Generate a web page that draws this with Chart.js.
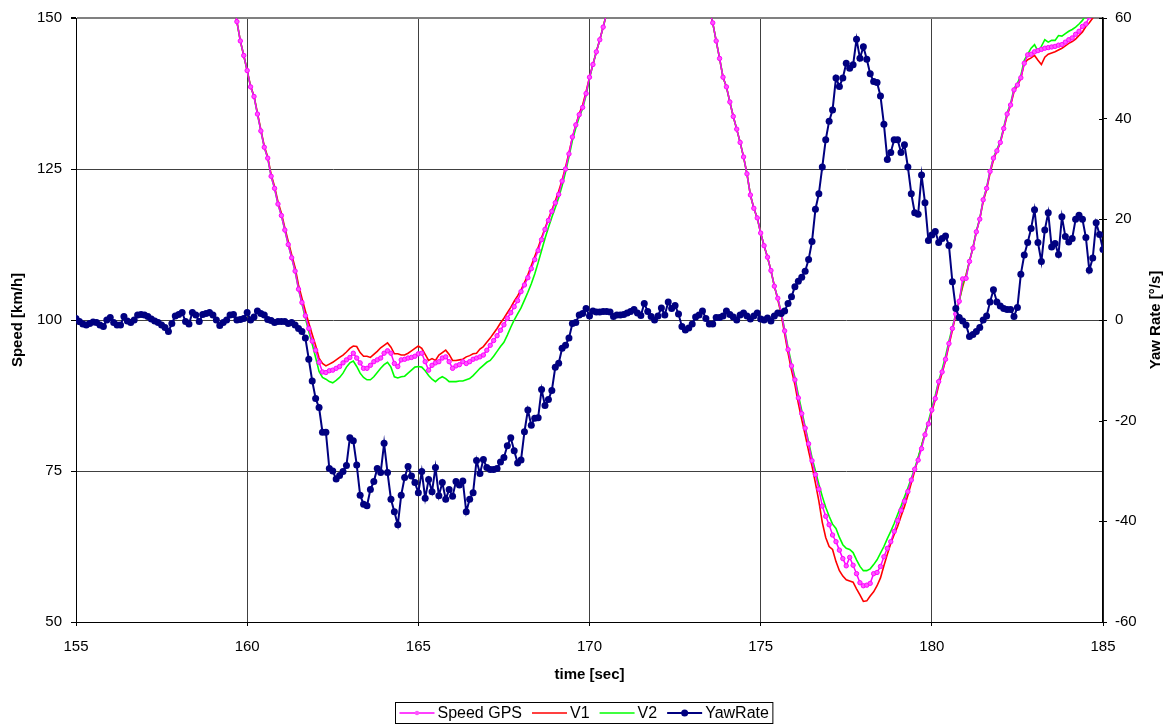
<!DOCTYPE html>
<html>
<head>
<meta charset="utf-8">
<title>Speed and yaw rate</title>
<script src="https://cdn.jsdelivr.net/npm/chart.js@4.4.1/dist/chart.umd.min.js"></script>
<style>
  html, body { margin: 0; padding: 0; background: #fff; }
  canvas { display: block; }
</style>
</head>
<body>
<canvas id="chart" width="1168" height="724"></canvas>
<script>
// Datos: una muestra cada 0.1 s desde 155.0 s hasta 185.0 s
const _ = null; // fuera del rango visible

const T_START = 155;
const T_STEP = 0.1;

// Yaw rate [°/s], eje derecho
const yawRate = [
  /*155*/ 0.3, -0.3, -0.8, -1.0, -0.7, -0.4, -0.5, -1.0, -1.3, 0.0,
  /*156*/ 0.5, -0.5, -1.0, -1.0, 0.7, -0.2, -0.5, 0.0, 1.0, 1.1,
  /*157*/ 1.0, 0.7, 0.2, -0.2, -0.5, -1.0, -1.5, -2.3, -0.7, 0.8,
  /*158*/ 1.1, 1.5, -0.3, -0.8, 1.5, 1.0, -0.3, 1.1, 1.3, 1.5,
  /*159*/ 1.0, 0.0, -1.1, -0.5, 0.0, 1.0, 1.1, 0.0, 0.1, 0.3,
  /*160*/ 1.5, 0.0, 0.6, 1.8, 1.3, 1.0, 0.1, -0.1, -0.5, -0.3,
  /*161*/ -0.3, -0.3, -0.7, -0.5, -1.0, -1.7, -2.3, -3.6, -7.8, -12.1,
  /*162*/ -15.6, -17.4, -22.3, -22.3, -29.5, -30.0, -31.6, -30.9, -30.1, -28.9,
  /*163*/ -23.4, -24.0, -28.8, -34.8, -36.6, -36.9, -33.7, -32.1, -29.5, -30.3,
  /*164*/ -24.5, -30.3, -35.6, -38.1, -40.7, -34.8, -31.3, -29.1, -31.0, -32.3,
  /*165*/ -34.3, -30.1, -35.4, -31.7, -34.1, -29.3, -34.9, -32.3, -35.6, -33.7,
  /*166*/ -35.0, -32.1, -32.8, -32.0, -38.1, -35.6, -34.3, -27.9, -30.5, -27.7,
  /*167*/ -29.3, -29.7, -29.7, -29.5, -28.2, -27.3, -25.0, -23.4, -26.0, -28.4,
  /*168*/ -27.8, -22.2, -17.9, -20.9, -19.5, -19.4, -13.8, -17.0, -15.8, -14.0,
  /*169*/ -9.4, -8.6, -5.6, -5.0, -3.6, -0.7, -0.5, 1.0, 1.3, 2.3,
  /*170*/ 0.8, 1.8, 1.6, 1.6, 1.7, 1.7, 1.6, 0.7, 1.0, 1.0,
  /*171*/ 1.1, 1.4, 1.7, 2.1, 1.4, 0.9, 3.3, 1.7, 0.7, 0.0,
  /*172*/ 0.8, 2.4, 1.0, 3.6, 2.3, 2.9, 1.2, -1.3, -2.0, -1.6,
  /*173*/ -0.8, 0.6, 1.0, 1.8, 0.3, -0.8, -0.8, 0.5, 0.5, 0.8,
  /*174*/ 1.8, 1.1, 0.6, 0.0, 1.0, 1.4, 0.8, 0.2, 0.8, 1.4,
  /*175*/ 0.2, 0.0, 0.4, -0.2, 0.8, 1.4, 1.3, 1.8, 3.3, 4.6,
  /*176*/ 6.6, 7.7, 8.5, 9.7, 12.0, 15.6, 22.0, 25.1, 30.4, 35.8,
  /*177*/ 39.5, 41.7, 48.1, 46.4, 48.1, 51.0, 50.0, 50.7, 55.8, 52.0,
  /*178*/ 54.3, 51.8, 48.9, 47.4, 47.2, 44.5, 38.9, 31.9, 33.3, 35.8,
  /*179*/ 35.8, 33.3, 34.8, 30.4, 25.1, 21.3, 21.0, 28.8, 23.3, 15.8,
  /*180*/ 16.9, 17.6, 15.4, 16.2, 16.7, 14.8, 7.6, 2.3, 0.5, -0.2,
  /*181*/ -1.0, -3.3, -2.9, -2.3, -1.5, 0.0, 0.8, 3.6, 6.0, 3.6,
  /*182*/ 2.8, 2.3, 2.1, 2.1, 0.7, 2.5, 9.1, 12.9, 15.4, 18.2,
  /*183*/ 21.9, 15.4, 11.6, 17.9, 21.3, 14.5, 15.2, 13.0, 20.5, 16.6,
  /*184*/ 15.5, 16.2, 20.0, 20.8, 20.0, 16.4, 9.9, 12.3, 19.3, 17.0,
  /*185*/ 14.0
];

// Speed GPS [km/h]
const speedGps = [
  /*155*/ _, _, _, _, _, _, _, _, _, _,
  /*156*/ _, _, _, _, _, _, _, _, _, _,
  /*157*/ _, _, _, _, _, _, _, _, _, _,
  /*158*/ _, _, _, _, _, _, _, _, _, _,
  /*159*/ _, _, _, _, _, _, 152.3, 149.4, 146.2, 143.8,
  /*160*/ 141.3, 138.6, 137.0, 134.1, 131.3, 128.6, 126.8, 123.8, 121.8, 119.2,
  /*161*/ 117.3, 114.9, 112.5, 110.3, 108.1, 105.1, 102.9, 100.7, 98.6, 96.5,
  /*162*/ 95.0, 93.0, 91.4, 91.3, 91.6, 91.7, 92.0, 92.3, 92.9, 93.4,
  /*163*/ 93.8, 94.5, 93.7, 92.9, 92.0, 92.0, 92.5, 93.1, 93.4, 93.7,
  /*164*/ 94.5, 94.9, 94.5, 92.8, 92.3, 93.4, 93.5, 93.7, 93.8, 94.0,
  /*165*/ 94.4, 94.5, 93.1, 91.7, 92.5, 92.9, 93.1, 93.7, 93.9, 93.1,
  /*166*/ 92.0, 92.4, 92.6, 93.1, 92.8, 93.1, 93.5, 93.7, 93.9, 94.2,
  /*167*/ 95.0, 95.8, 96.6, 97.4, 98.3, 99.2, 100.3, 101.2, 102.2, 103.2,
  /*168*/ 104.7, 105.8, 107.0, 108.5, 110.0, 111.5, 113.3, 115.0, 116.5, 118.0,
  /*169*/ 119.4, 120.8, 123.0, 125.0, 127.5, 130.3, 132.3, 134.0, 135.2, 137.5,
  /*170*/ 140.2, 142.3, 144.4, 146.4, 148.5, 150.8, _, _, _, _,
  /*171*/ _, _, _, _, _, _, _, _, _, _,
  /*172*/ _, _, _, _, _, _, _, _, _, _,
  /*173*/ _, _, _, _, _, 151.5, 149.2, 146.2, 143.3, 140.2,
  /*174*/ 138.6, 136.1, 133.7, 131.6, 129.4, 127.0, 124.2, 120.7, 118.5, 116.9,
  /*175*/ 114.4, 112.3, 110.4, 108.2, 105.6, 103.6, 101.3, 98.2, 95.1, 92.4,
  /*176*/ 90.1, 87.1, 84.5, 82.1, 79.5, 76.7, 74.4, 72.0, 69.2, 67.5,
  /*177*/ 66.1, 64.4, 63.3, 61.9, 60.5, 59.3, 60.7, 59.4, 58.0, 56.5,
  /*178*/ 56.0, 56.1, 56.4, 58.0, 58.2, 59.2, 60.8, 62.2, 63.3, 65.0,
  /*179*/ 66.8, 68.5, 70.0, 71.6, 73.5, 75.3, 76.8, 78.7, 81.0, 82.8,
  /*180*/ 85.1, 87.0, 89.8, 91.4, 93.5, 96.1, 98.6, 101.0, 103.1, 106.8,
  /*181*/ 106.9, 109.7, 111.9, 114.6, 116.7, 119.9, 121.8, 124.6, 126.8, 128.0,
  /*182*/ 129.4, 131.7, 134.1, 135.6, 138.1, 138.9, 140.1, 142.5, 143.9, 144.0,
  /*183*/ 144.4, 144.6, 144.8, 145.0, 145.1, 145.2, 145.3, 145.5, 145.6, 146.0,
  /*184*/ 146.4, 146.7, 147.3, 147.8, 148.6, 149.0, 150.2, 151.5, _, _,
  /*185*/ _
];

// V1 [km/h]
const v1 = [
  /*155*/ _, _, _, _, _, _, _, _, _, _,
  /*156*/ _, _, _, _, _, _, _, _, _, _,
  /*157*/ _, _, _, _, _, _, _, _, _, _,
  /*158*/ _, _, _, _, _, _, _, _, _, _,
  /*159*/ _, _, _, _, _, _, 152.3, 149.4, 146.2, 143.8,
  /*160*/ 141.3, 138.7, 137.1, 134.3, 131.5, 128.8, 127.0, 124.1, 122.1, 119.6,
  /*161*/ 117.7, 115.3, 113.0, 110.8, 108.7, 105.8, 103.6, 101.5, 99.5, 97.6,
  /*162*/ 95.8, 93.7, 92.8, 92.4, 92.7, 93.0, 93.4, 93.8, 94.2, 94.7,
  /*163*/ 95.3, 95.7, 95.6, 94.6, 94.0, 94.0, 93.8, 94.3, 94.8, 95.4,
  /*164*/ 95.8, 96.2, 95.5, 94.4, 94.4, 94.2, 94.2, 94.5, 94.9, 95.3,
  /*165*/ 95.7, 95.3, 94.3, 93.3, 93.6, 93.3, 94.2, 94.6, 95.0, 94.3,
  /*166*/ 93.3, 93.3, 93.4, 93.5, 93.9, 94.1, 94.4, 94.5, 95.2, 95.6,
  /*167*/ 96.3, 97.0, 97.8, 98.6, 99.5, 100.3, 101.2, 102.1, 103.1, 104.0,
  /*168*/ 105.0, 106.2, 107.5, 109.0, 110.5, 112.0, 113.6, 115.2, 116.7, 118.2,
  /*169*/ 119.7, 121.3, 123.2, 125.3, 127.7, 130.2, 132.3, 134.2, 135.6, 137.8,
  /*170*/ 140.2, 142.3, 144.4, 146.4, 148.5, 150.8, _, _, _, _,
  /*171*/ _, _, _, _, _, _, _, _, _, _,
  /*172*/ _, _, _, _, _, _, _, _, _, _,
  /*173*/ _, _, _, _, _, 151.5, 149.2, 146.2, 143.3, 140.2,
  /*174*/ 138.6, 136.1, 133.7, 131.6, 129.4, 127.0, 124.2, 120.7, 118.5, 116.9,
  /*175*/ 114.4, 112.3, 110.4, 108.2, 105.6, 103.4, 100.9, 97.7, 94.5, 91.7,
  /*176*/ 89.3, 86.2, 83.5, 81.0, 78.3, 75.8, 73.0, 70.0, 66.5, 64.0,
  /*177*/ 62.5, 62.0, 60.0, 58.5, 57.6, 57.0, 56.8, 56.6, 55.5, 54.5,
  /*178*/ 53.4, 53.5, 54.3, 55.0, 56.0, 57.3, 59.3, 61.2, 63.0, 64.5,
  /*179*/ 65.8, 67.5, 69.1, 71.0, 73.0, 75.0, 77.1, 79.2, 81.2, 83.0,
  /*180*/ 84.8, 86.8, 89.2, 91.2, 93.3, 95.8, 98.3, 100.8, 103.2, 105.5,
  /*181*/ 107.5, 109.7, 111.9, 114.6, 116.7, 119.6, 121.6, 124.3, 126.5, 128.0,
  /*182*/ 129.3, 131.6, 133.9, 135.5, 137.8, 138.8, 140.0, 142.5, 143.1, 143.4,
  /*183*/ 143.8, 143.0, 142.3, 143.5, 144.0, 144.2, 144.4, 144.7, 145.0, 145.4,
  /*184*/ 145.8, 146.1, 146.5, 147.1, 147.7, 148.6, 149.2, 150.0, 151.5, _,
  /*185*/ _
];

// V2 [km/h]
const v2 = [
  /*155*/ _, _, _, _, _, _, _, _, _, _,
  /*156*/ _, _, _, _, _, _, _, _, _, _,
  /*157*/ _, _, _, _, _, _, _, _, _, _,
  /*158*/ _, _, _, _, _, _, _, _, _, _,
  /*159*/ _, _, _, _, _, _, 152.3, 149.4, 146.2, 143.8,
  /*160*/ 141.3, 138.6, 137.0, 134.1, 131.3, 128.6, 126.8, 123.8, 121.8, 119.2,
  /*161*/ 117.3, 114.9, 112.5, 110.3, 108.1, 105.1, 102.7, 100.3, 98.1, 96.0,
  /*162*/ 93.8, 91.5, 90.5, 90.2, 89.8, 89.6, 90.0, 90.5, 91.2, 92.2,
  /*163*/ 92.9, 93.2, 92.3, 91.2, 90.5, 90.1, 90.1, 90.6, 91.3, 92.0,
  /*164*/ 92.6, 93.0, 92.2, 90.6, 90.4, 90.6, 90.7, 91.2, 91.7, 92.2,
  /*165*/ 92.3, 92.2, 91.6, 90.8, 90.2, 89.8, 90.3, 90.6, 90.3, 89.8,
  /*166*/ 89.8, 89.8, 89.9, 89.9, 90.1, 90.3, 90.8, 91.4, 92.0, 92.5,
  /*167*/ 93.0, 93.3, 94.0, 94.8, 95.6, 96.3, 97.5, 98.8, 100.0, 101.0,
  /*168*/ 102.0, 103.3, 104.6, 106.0, 107.6, 109.5, 111.5, 113.5, 115.3, 117.0,
  /*169*/ 118.6, 120.3, 122.2, 124.5, 127.0, 129.7, 131.8, 133.6, 135.0, 137.2,
  /*170*/ 140.0, 142.3, 144.4, 146.4, 148.5, 150.8, _, _, _, _,
  /*171*/ _, _, _, _, _, _, _, _, _, _,
  /*172*/ _, _, _, _, _, _, _, _, _, _,
  /*173*/ _, _, _, _, _, 151.5, 149.2, 146.2, 143.3, 140.2,
  /*174*/ 138.6, 136.1, 133.7, 131.6, 129.4, 127.0, 124.2, 120.7, 118.5, 116.9,
  /*175*/ 114.4, 112.3, 110.4, 108.2, 105.6, 103.6, 101.3, 98.4, 95.4, 92.8,
  /*176*/ 90.5, 87.6, 85.0, 82.3, 79.8, 77.2, 75.0, 72.8, 70.8, 69.0,
  /*177*/ 67.5, 66.2, 65.5, 64.0, 62.8, 62.2, 62.0, 61.5, 60.3, 59.2,
  /*178*/ 58.5, 58.5, 58.8, 59.5, 60.3, 61.4, 62.5, 63.8, 65.0, 66.3,
  /*179*/ 67.8, 69.2, 70.7, 72.2, 73.8, 75.4, 77.3, 79.2, 81.2, 83.2,
  /*180*/ 85.4, 87.5, 89.9, 91.8, 94.0, 96.5, 98.8, 101.0, 103.1, 106.0,
  /*181*/ 107.2, 109.8, 112.0, 114.7, 116.8, 119.9, 121.9, 124.7, 126.9, 128.2,
  /*182*/ 129.6, 131.9, 134.3, 135.8, 138.3, 139.2, 140.5, 143.0, 144.0, 145.0,
  /*183*/ 145.6, 144.5, 145.3, 146.4, 146.0, 146.3, 146.3, 147.1, 147.0, 147.4,
  /*184*/ 147.8, 148.1, 148.5, 149.0, 149.6, 150.5, 152.0, _, _, _,
  /*185*/ _
];

// Ejes
const timeMin = 155, timeMax = 185, timeStep = 5;
const speedMin = 50, speedMax = 150, speedStep = 25;
const yawMin = -60, yawMax = 60, yawStep = 20;

const FONT = '"Liberation Sans", Arial, Helvetica, sans-serif';

// Serie -> puntos {x, y}
function toPoints(values) {
  return values.map((v, i) => ({ x: Math.round((T_START + i * T_STEP) * 10) / 10, y: v }));
}

// Leyenda con recuadro, titulo del eje derecho y marcas cruzadas
const extras = {
  id: 'extras',
  afterDraw(chart) {
    const ctx = chart.ctx;
    const area = chart.chartArea;
    const y1 = chart.scales.y1;
    ctx.save();

    // marcas interiores del eje derecho
    ctx.strokeStyle = '#000';
    ctx.lineWidth = 1;
    y1.ticks.forEach(t => {
      const y = Math.round(y1.getPixelForValue(t.value)) + 0.5;
      ctx.beginPath();
      ctx.moveTo(area.right - 4, y);
      ctx.lineTo(area.right, y);
      ctx.stroke();
    });

    // titulo eje derecho
    ctx.fillStyle = '#000';
    ctx.font = 'bold 15px ' + FONT;
    ctx.textAlign = 'center';
    ctx.textBaseline = 'middle';
    ctx.translate(area.right + 53, (area.top + area.bottom) / 2);
    ctx.rotate(-Math.PI / 2);
    ctx.fillText('Yaw Rate [°/s]', 0, 0);
    ctx.setTransform(1, 0, 0, 1, 0, 0);

    // leyenda
    ctx.font = '16px ' + FONT;
    const items = chart.data.datasets.slice().sort((a, b) => a.legendIndex - b.legendIndex);
    const lineLen = 35, gapText = 3, gapItem = 10, pad = 4;
    let total = pad * 2 + gapItem * (items.length - 1);
    items.forEach(d => { total += lineLen + gapText + ctx.measureText(d.label).width; });
    const boxH = 21;
    const boxX = Math.round(chart.width / 2 - total / 2) + 0.5;
    const boxY = 702.5;
    ctx.strokeStyle = '#000';
    ctx.lineWidth = 1;
    ctx.strokeRect(boxX, boxY, total, boxH);

    let x = boxX + pad;
    const cy = boxY + boxH / 2;
    ctx.textAlign = 'left';
    items.forEach(d => {
      ctx.strokeStyle = d.borderColor;
      ctx.lineWidth = d.borderWidth;
      ctx.beginPath();
      ctx.moveTo(x, cy);
      ctx.lineTo(x + lineLen, cy);
      ctx.stroke();
      if (d.pointRadius > 0) {
        ctx.fillStyle = d.pointBackgroundColor;
        ctx.beginPath();
        ctx.arc(x + lineLen / 2, cy, d.pointRadius, 0, Math.PI * 2);
        ctx.fill();
      }
      x += lineLen + gapText;
      ctx.fillStyle = '#000';
      ctx.fillText(d.label, x, cy + 1);
      x += ctx.measureText(d.label).width + gapItem;
    });
    ctx.restore();
  }
};

const chart = new Chart(document.getElementById('chart'), {
  type: 'line',
  data: {
    datasets: [
      {
        label: 'YawRate',
        legendIndex: 3,
        data: toPoints(yawRate),
        yAxisID: 'y1',
        borderColor: '#000080',
        borderWidth: 2,
        pointRadius: 3.5,
        pointBackgroundColor: '#000080',
        pointBorderColor: '#000080',
        pointBorderWidth: 0,
        order: 0
      },
      {
        label: 'Speed GPS',
        legendIndex: 0,
        data: toPoints(speedGps),
        yAxisID: 'y',
        borderColor: '#FF00FF',
        borderWidth: 1.5,
        pointRadius: 2.2,
        pointBackgroundColor: '#FF55FF',
        pointBorderColor: '#FF00FF',
        pointBorderWidth: 1,
        order: 1
      },
      {
        label: 'V2',
        legendIndex: 2,
        data: toPoints(v2),
        yAxisID: 'y',
        borderColor: '#00FF00',
        borderWidth: 1.6,
        pointRadius: 0,
        order: 2
      },
      {
        label: 'V1',
        legendIndex: 1,
        data: toPoints(v1),
        yAxisID: 'y',
        borderColor: '#FF0000',
        borderWidth: 1.6,
        pointRadius: 0,
        order: 3
      }
    ]
  },
  options: {
    responsive: false,
    devicePixelRatio: 1,
    animation: false,
    events: [],
    spanGaps: false,
    layout: { padding: { top: 18, left: 0, right: 0, bottom: 0 } },
    plugins: {
      legend: { display: false },
      tooltip: { enabled: false }
    },
    elements: { line: { tension: 0 } },
    scales: {
      x: {
        type: 'linear',
        min: timeMin,
        max: timeMax,
        afterFit: s => { s.height = 102; },
        ticks: {
          stepSize: timeStep,
          color: '#000',
          font: { family: FONT, size: 15 },
          padding: 12,
          maxRotation: 0
        },
        grid: { color: '#404040', lineWidth: 1, tickLength: 4, tickColor: '#000' },
        border: { display: true, color: '#000', width: 1 },
        title: {
          display: true,
          text: 'time [sec]',
          color: '#000',
          font: { family: FONT, size: 15, weight: 'bold' },
          padding: { top: 0, bottom: 40 }
        }
      },
      y: {
        type: 'linear',
        position: 'left',
        min: speedMin,
        max: speedMax,
        afterFit: s => { s.width = 76; },
        ticks: {
          stepSize: speedStep,
          color: '#000',
          font: { family: FONT, size: 15 },
          padding: 9
        },
        grid: {
          color: ctx => (ctx.tick && ctx.tick.value === speedMax ? '#808080' : '#404040'),
          lineWidth: ctx => (ctx.tick && ctx.tick.value === speedMax ? 2 : 1),
          tickLength: 5,
          tickColor: '#000'
        },
        border: { display: true, color: '#000', width: 1 },
        title: {
          display: true,
          text: 'Speed [km/h]',
          color: '#000',
          font: { family: FONT, size: 15, weight: 'bold' },
          padding: { top: 9, bottom: 0 }
        }
      },
      y1: {
        type: 'linear',
        position: 'right',
        min: yawMin,
        max: yawMax,
        afterFit: s => { s.width = 65; },
        ticks: {
          stepSize: yawStep,
          color: '#000',
          font: { family: FONT, size: 15 },
          padding: 8
        },
        grid: { drawOnChartArea: false, tickLength: 4, color: '#000' },
        border: { display: true, color: '#000', width: 1.5 }
      }
    }
  },
  plugins: [extras]
});
</script>
</body>
</html>
